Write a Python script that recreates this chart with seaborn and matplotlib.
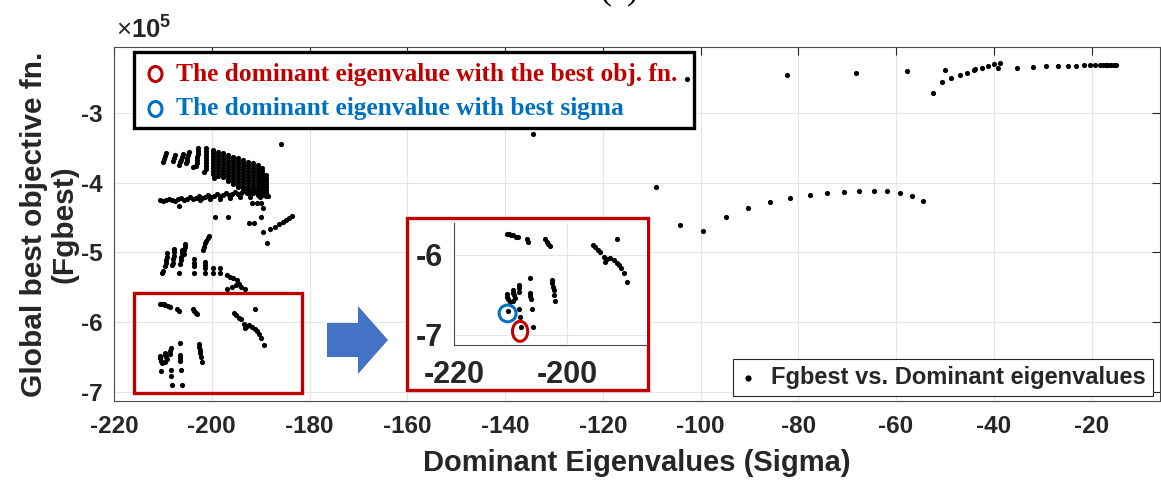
import numpy as np
import pandas as pd
import matplotlib
matplotlib.use("Agg")
import matplotlib.pyplot as plt
import seaborn as sns
from matplotlib.patches import Rectangle, Ellipse, Polygon
from matplotlib.ticker import FuncFormatter, FixedLocator

# ---------------- data (Sigma, Fgbest in units of 1e5) ----------------
fan_strip_x = [
    [-209.4, -209.6, -209.8, -210.0],
    [-207.5, -207.7, -207.9],
    [-205.9, -206.1, -206.3, -206.5],
    [-204.7, -204.8, -205.0, -205.1, -205.3],
    [-202.8, -202.9, -202.9, -203.0, -203.0, -203.1, -203.2],
    [-201.2] * 8, [-199.75] * 9, [-198.7] * 9, [-197.7] * 9, [-196.7] * 10,
    [-195.7] * 10, [-194.6] * 11, [-193.6] * 11, [-192.6] * 11, [-191.6] * 11,
    [-190.55] * 11, [-189.7] * 10, [-188.9] * 8,
]
fan_strip_y = [
    [-3.57, -3.62, -3.66, -3.70],
    [-3.60, -3.65, -3.69],
    [-3.59, -3.63, -3.67, -3.70],
    [-3.56, -3.60, -3.65, -3.69, -3.72],
    [-3.50, -3.54, -3.59, -3.63, -3.67, -3.72, -3.76],
    [-3.50, -3.54, -3.59, -3.63, -3.67, -3.72, -3.76, -3.80],
    [-3.53, -3.57, -3.62, -3.66, -3.70, -3.75, -3.79, -3.83, -3.87],
    [-3.56, -3.60, -3.65, -3.69, -3.73, -3.77, -3.82, -3.86, -3.90],
    [-3.57, -3.62, -3.66, -3.70, -3.75, -3.79, -3.83, -3.87, -3.92],
    [-3.60, -3.65, -3.69, -3.73, -3.77, -3.82, -3.86, -3.90, -3.95, -3.97],
    [-3.63, -3.67, -3.72, -3.76, -3.80, -3.85, -3.89, -3.93, -3.97, -4.02],
    [-3.64, -3.69, -3.73, -3.77, -3.82, -3.86, -3.90, -3.95, -3.99, -4.03, -4.06],
    [-3.67, -3.72, -3.76, -3.80, -3.85, -3.89, -3.93, -3.97, -4.02, -4.06, -4.10],
    [-3.70, -3.75, -3.79, -3.83, -3.87, -3.92, -3.96, -4.00, -4.05, -4.09, -4.13],
    [-3.72, -3.76, -3.80, -3.85, -3.89, -3.93, -3.97, -4.02, -4.06, -4.10, -4.15],
    [-3.75, -3.79, -3.83, -3.87, -3.92, -3.96, -4.00, -4.05, -4.09, -4.13, -4.17],
    [-3.79, -3.83, -3.87, -3.92, -3.96, -4.00, -4.05, -4.09, -4.13, -4.17],
    [-3.89, -3.93, -3.97, -4.02, -4.06, -4.10, -4.15, -4.19],
]
fan_band_x = [-210.6, -210.0, -209.4, -208.75, -208.1, -207.5, -206.9, -206.3, -205.7, -205.1,
              -204.5, -203.8, -203.2, -202.6, -202.0, -201.4, -200.8, -200.2, -199.55, -198.9,
              -198.3, -197.7, -197.1, -196.5, -195.9, -195.25, -194.6, -194.0, -193.4, -192.8,
              -192.2, -191.6, -190.95, -190.35, -189.7, -189.1, -188.5,
              -202.4, -200.4, -198.3, -196.3, -194.2, -192.2, -190.1]
fan_band_y = [-4.25, -4.26, -4.25, -4.23, -4.25, -4.26, -4.23, -4.22, -4.25, -4.23,
              -4.20, -4.23, -4.22, -4.19, -4.22, -4.20, -4.175, -4.20, -4.19, -4.16,
              -4.19, -4.175, -4.15, -4.175, -4.16, -4.13, -4.16, -4.15, -4.12, -4.15,
              -4.13, -4.10, -4.13, -4.12, -4.15, -4.175, -4.19,
              -4.25, -4.23, -4.23, -4.22, -4.20, -4.20, -4.20]
extra_x = [-206.6, -203.8, -201.5, -199.5, -206.7, -185.8, -134.3]
extra_y = [-3.745, -3.78, -3.84, -3.93, -4.33, -3.44, -3.30]
near_x = [-191.8, -190.8, -189.9, -189.6, -189.9, -192.4, -191.4, -189.6, -188.65, -199.4, -196.6]
near_y = [-4.285, -4.285, -4.285, -4.357, -4.49, -4.58, -4.58, -4.70, -4.867, -4.486, -4.495]
curve_x = [-188.0, -187.1, -186.3, -185.5, -184.8, -184.1, -183.5]
curve_y = [-4.667, -4.629, -4.59, -4.562, -4.533, -4.509, -4.48]
mid_x = [-209.1, -209.2, -209.3, -209.45, -209.6, -210.25, -209.9,
         -207.7, -207.75, -207.8, -207.9, -208.0, -208.1,
         -206.1, -206.15, -206.2, -206.3, -206.4, -206.6,
         -205.4, -205.5, -205.6, -205.7,
         -203.7, -203.7, -203.7, -203.7,
         -200.6, -200.8, -201.1, -201.3, -201.5, -201.7,
         -201.3, -201.3, -201.3, -201.3,
         -199.65, -199.65, -198.3, -198.3,
         -196.95, -196.3, -195.6, -194.9, -194.4,
         -196.8, -195.9, -195.05, -194.0, -193.2]
mid_y = [-5.01, -5.06, -5.11, -5.15, -5.20, -5.30, -5.27,
         -4.95, -5.00, -5.05, -5.10, -5.145, -5.18,
         -4.96, -5.01, -5.06, -5.11, -5.16, -5.30,
         -4.88, -4.92, -4.97, -5.02,
         -5.10, -5.145, -5.20, -5.29,
         -4.76, -4.80, -4.83, -4.87, -4.92, -4.96,
         -5.13, -5.18, -5.225, -5.29,
         -5.225, -5.30, -5.225, -5.30,
         -5.32, -5.345, -5.37, -5.40, -5.45,
         -5.52, -5.49, -5.47, -5.49, -5.52]
low_x = [-210.6, -210.2, -209.85, -209.5, -209.0, -208.6, -207.1, -206.8, -203.9, -203.6, -203.3, -203.0,
         -195.4, -195.0, -194.4, -194.1, -191.1, -193.5, -193.2, -192.8, -192.3, -191.7, -191.2, -190.8,
         -190.4, -189.9, -189.3,
         -210.56, -210.56, -210.39, -210.09, -209.5, -209.6, -209.38, -209.2, -209.5, -208.43, -208.55, -208.49,
         -206.53, -206.53, -206.53, -206.4, -206.23,
         -202.67, -202.55, -202.43, -202.31, -202.2, -202.08,
         -208.43, -208.3, -206.05]
low_y = [-5.74, -5.742, -5.746, -5.754, -5.771, -5.779, -5.804, -5.833, -5.804, -5.833, -5.863, -5.888,
         -5.875, -5.896, -5.938, -5.958, -5.804, -6.02, -6.083, -6.054, -6.042, -6.063, -6.096, -6.125,
         -6.167, -6.229, -6.333,
         -6.4875, -6.52, -6.554, -6.5875, -6.4375, -6.47, -6.504, -6.533, -6.571, -6.375, -6.417, -6.458,
         -6.292, -6.47, -6.5125, -6.554, -6.679,
         -6.3125, -6.354, -6.396, -6.4375, -6.5, -6.571,
         -6.679, -6.77, -6.896]
best_obj_x, best_obj_y = -208.19, -6.904
best_sigma_x, best_sigma_y = -210.4, -6.70
topright_x = [-102.8, -82.4, -68.1, -57.7, -52.5, -50.5, -50.0, -48.7, -47.0, -45.4, -44.0, -43.9,
              -42.5, -41.2, -40.0, -39.05, -38.8, -35.2, -31.9, -29.3, -26.9, -24.9, -23.2, -21.6,
              -20.3, -19.2, -18.3, -17.6, -17.1, -16.6, -16.0, -15.5, -15.0]
topright_y = [-2.514, -2.458, -2.425, -2.396, -2.717, -2.561, -2.377, -2.50, -2.453, -2.42, -2.387,
              -2.368, -2.349, -2.325, -2.302, -2.358, -2.278, -2.349, -2.335, -2.33, -2.321, -2.321,
              -2.321, -2.316, -2.316, -2.312, -2.312, -2.31, -2.31, -2.31, -2.31, -2.31, -2.31]
arc_x = [-109.2, -104.2, -99.5, -94.7, -90.2, -85.8, -81.7, -77.7, -74.1, -70.6, -67.5, -64.5,
         -61.8, -59.1, -56.8, -54.5]
arc_y = [-4.061, -4.608, -4.689, -4.486, -4.368, -4.283, -4.226, -4.179, -4.146, -4.127, -4.113,
         -4.113, -4.123, -4.146, -4.184, -4.264]

x_ticks = [-220, -200, -180, -160, -140, -120, -100, -80, -60, -40, -20]
y_ticks = [-7, -6, -5, -4, -3]
inset_x_ticks = [-220, -200]
inset_y_ticks = [-7, -6]
series_label = "Fgbest vs. Dominant eigenvalues"
legend_lines = ["The dominant eigenvalue with the best obj. fn.",
                "The dominant eigenvalue with best sigma"]

# ---------------- assemble ----------------
xs, ys = [], []
for sx, sy in zip(fan_strip_x, fan_strip_y):
    xs += list(sx); ys += list(sy)
for gx, gy in [(fan_band_x, fan_band_y), (extra_x, extra_y), (near_x, near_y),
               (curve_x, curve_y), (mid_x, mid_y), (low_x, low_y),
               ([best_obj_x, best_sigma_x], [best_obj_y, best_sigma_y]),
               (topright_x, topright_y), (arc_x, arc_y)]:
    xs += list(gx); ys += list(gy)
df = pd.DataFrame({"sigma": xs, "fgbest": ys})

# ---------------- style ----------------
sns.set_theme(style="white")
plt.rcParams["font.family"] = ["Liberation Sans", "DejaVu Sans"]
plt.rcParams["axes.unicode_minus"] = False
plt.rcParams["mathtext.fontset"] = "custom"
plt.rcParams["mathtext.rm"] = "Liberation Sans"
plt.rcParams["mathtext.bf"] = "Liberation Sans:bold"

W, H = 1161, 482
fig = plt.figure(figsize=(W / 100, H / 100), dpi=100)
fig.patch.set_facecolor("white")


def fx(px):
    return px / W


def fy(py):
    return 1 - py / H


TXT = "#262626"
DOT = 14
ax = fig.add_axes([fx(114), fy(401), fx(1160) - fx(114), fy(46.7) - fy(401)])
sns.scatterplot(data=df, x="sigma", y="fgbest", color="black", s=DOT, linewidth=0,
                ax=ax, label=series_label, zorder=4)
ax.set_xlim(-220, -6)
ax.set_ylim(-7.13, -2.05)
ax.xaxis.set_major_locator(FixedLocator(x_ticks))
ax.yaxis.set_major_locator(FixedLocator(y_ticks))
ax.xaxis.set_major_formatter(FuncFormatter(lambda v, p: f"{v:.0f}"))
ax.yaxis.set_major_formatter(FuncFormatter(lambda v, p: f"{v:.0f}"))
ax.grid(True, color="#E4E4E4", lw=0.8)
ax.set_axisbelow(True)
ax.tick_params(direction="in", length=6, width=0.8, top=True, right=True,
               labelsize=17.5, colors=TXT)
ax.tick_params(axis="x", pad=10)
ax.tick_params(axis="y", pad=8)
for lbl in ax.get_xticklabels() + ax.get_yticklabels():
    lbl.set_fontweight("bold")
for sp in ax.spines.values():
    sp.set_color("#4a4a4a")
    sp.set_linewidth(0.8)
ax.set_xlabel("Dominant Eigenvalues (Sigma)", fontsize=21, fontweight="bold", color=TXT)
ax.set_ylabel("Global best objective fn.\n(Fgbest)", fontsize=21.5, fontweight="bold",
              color=TXT, linespacing=1.12)
ax.xaxis.set_label_coords(0.5, -0.135)
ax.yaxis.set_label_coords(-0.034, 0.5)
ax.text(0.002, 1.012, r"$\times\mathbf{10}^{\mathbf{5}}$", transform=ax.transAxes,
        fontsize=18.5, color=TXT, ha="left", va="bottom")

leg = ax.legend(loc="lower right", bbox_to_anchor=(fx(1153), fy(396)),
                bbox_transform=fig.transFigure, borderaxespad=0, frameon=True,
                fancybox=False, borderpad=0.3, handlelength=0.6, handletextpad=0.7,
                prop={"weight": "bold", "size": 17}, markerscale=1.2)
leg.get_frame().set_edgecolor("#262626")
leg.get_frame().set_linewidth(0.8)
leg.get_frame().set_alpha(1)

# red box marking the zoomed region on the main axes
ax.add_patch(Rectangle((-215.9, -7.01), 34.35, 1.43, fill=False, ec="#C00000", lw=2.4, zorder=5))

# top-left annotation box
ax.add_patch(Rectangle((fx(134), fy(128)), fx(694) - fx(134), fy(52) - fy(128),
                       transform=fig.transFigure, fc="white", ec="black", lw=2.4,
                       zorder=3, clip_on=False))
for i, (txt, col) in enumerate(zip(legend_lines, ["#C00000", "#0070C0"])):
    cy = 74 + 35 * i
    ax.add_patch(Ellipse((fx(155.5), fy(cy)), 13 / W, 15 / H, transform=fig.transFigure,
                         fill=False, ec=col, lw=2.2, zorder=6, clip_on=False))
    ax.text(fx(176), fy(cy), txt, transform=fig.transFigure, fontsize=18.3, fontweight="bold",
            color=col, family=["Liberation Serif", "DejaVu Serif"], ha="left", va="center",
            zorder=6)

# blue arrow
arrow_px = [(327, 323), (358, 323), (358, 306), (388, 340), (358, 374), (358, 357), (327, 357)]
fig.patches.append(Polygon([(fx(a), fy(b)) for a, b in arrow_px], closed=True,
                           transform=fig.transFigure, fc="#4472C4", ec="none", zorder=1))

# white panel with red border holding the inset
fig.patches.append(Rectangle((fx(407), fy(390)), fx(648) - fx(407), fy(218) - fy(390),
                             transform=fig.transFigure, fc="white", ec="#C00000", lw=2.4,
                             zorder=1))

# inset axes
axi = fig.add_axes([fx(454), fy(345), fx(647) - fx(454), fy(223) - fy(345)])
axi.set_zorder(2)
sns.scatterplot(data=df, x="sigma", y="fgbest", color="black", s=DOT, linewidth=0,
                ax=axi, legend=False, zorder=4)
axi.set_xlim(-220, -185.8)
axi.set_ylim(-7.125, -5.6)
axi.xaxis.set_major_locator(FixedLocator(inset_x_ticks))
axi.yaxis.set_major_locator(FixedLocator(inset_y_ticks))
axi.xaxis.set_major_formatter(FuncFormatter(lambda v, p: f"{v:.0f}"))
axi.yaxis.set_major_formatter(FuncFormatter(lambda v, p: f"{v:.0f}"))
axi.set_facecolor("white")
axi.grid(True, color="#E4E4E4", lw=0.8)
axi.set_axisbelow(True)
axi.set_xlabel("")
axi.set_ylabel("")
for s in ["top", "right"]:
    axi.spines[s].set_visible(False)
for s in ["left", "bottom"]:
    axi.spines[s].set_color("#4a4a4a")
    axi.spines[s].set_linewidth(0.8)
axi.tick_params(direction="in", length=6, width=0.8, labelsize=22, colors=TXT)
axi.tick_params(axis="x", pad=11)
axi.tick_params(axis="y", pad=8)
for lbl in axi.get_xticklabels() + axi.get_yticklabels():
    lbl.set_fontweight("bold")
axi.add_patch(Ellipse((best_obj_x - 0.1, best_obj_y - 0.05), 2.7, 0.25, fill=False,
                      ec="#C00000", lw=2.2, zorder=5))
axi.add_patch(Ellipse((best_sigma_x - 0.1, best_sigma_y - 0.03), 3.0, 0.21, fill=False,
                      ec="#0070C0", lw=2.2, zorder=5))

# cropped panel title at the very top (only its lower edge is inside the picture, as in the reference)
fig.text(fx(619), 1.0 + 1.5 / H, "(a)", fontsize=26, family=["Liberation Serif", "DejaVu Serif"],
         ha="center", va="baseline", color="black")

fig.savefig("out.png", dpi=100, facecolor="white")
